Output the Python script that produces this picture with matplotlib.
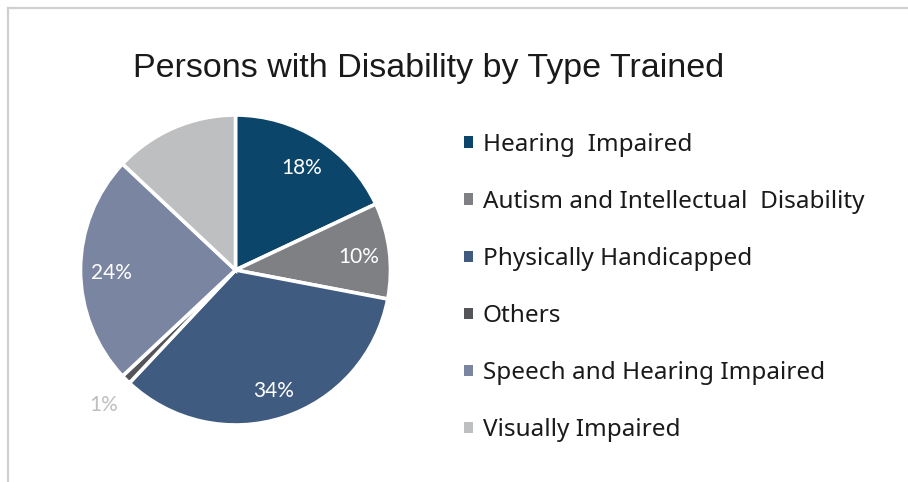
import matplotlib
matplotlib.use("Agg")
import matplotlib.pyplot as plt
import matplotlib.transforms as mtransforms
from matplotlib.patches import Patch
from matplotlib.lines import Line2D
import numpy as np

# Data
categories = ["Hearing  Impaired", "Autism and Intellectual  Disability",
              "Physically Handicapped", "Others",
              "Speech and Hearing Impaired", "Visually Impaired"]
shares = [18, 10, 34, 1, 24, 13]
colors = ["#0b4569", "#7f8084", "#3f5b80", "#545559", "#7a86a1", "#bebfc1"]
pct_labels = ["18%", "10%", "34%", "1%", "24%", ""]

fig = plt.figure(figsize=(9.08, 4.82), dpi=100)
fig.patch.set_facecolor("white")

# chart-area frame (only top and left edges are visible)
fig.add_artist(Line2D([8 / 908, 1.0], [1 - 8 / 482, 1 - 8 / 482],
                      transform=fig.transFigure, color="#d0d0d0", lw=1.6))
fig.add_artist(Line2D([8 / 908, 8 / 908], [0.0, 1 - 8 / 482],
                      transform=fig.transFigure, color="#d0d0d0", lw=1.6))

# Pie
R = 155
lim = 1.3
size = 2 * lim * R
cx, cy = 235.5, 482 - 270
ax = fig.add_axes([(cx - size / 2) / 908, (cy - size / 2) / 482, size / 908, size / 482])
wedges, _ = ax.pie(shares, colors=colors, startangle=90, counterclock=False,
                   wedgeprops=dict(edgecolor="white", linewidth=2.6))
ax.set_xlim(-lim, lim)
ax.set_ylim(-lim, lim)
ax.set_aspect("equal")
ax.axis("off")

# percentage labels
shift = mtransforms.offset_copy(ax.transData, fig=fig, x=0, y=-3, units="dots")
for w, s, lab in zip(wedges, shares, pct_labels):
    if not lab:
        continue
    mid = np.deg2rad((w.theta1 + w.theta2) / 2)
    if s < 3:
        r, col = 1.2, "#bfbfbf"
    else:
        r, col = 0.8, "white"
    ax.text(r * np.cos(mid), r * np.sin(mid), lab, ha="center", va="center",
            color=col, fontsize=15, family=["Lato", "DejaVu Sans"],
            transform=shift)

# Title
fig.text(429 / 908, 1 - 69 / 482, "Persons with Disability by Type Trained",
         ha="center", va="center", fontsize=24.5, family="Liberation Sans",
         color="#1a1a1a")

# Legend
handles = [Patch(facecolor=c, edgecolor="none") for c in colors]
leg = fig.legend(handles, categories, loc="upper left",
                 bbox_to_anchor=(464 / 908, 1 - 133 / 482),
                 frameon=False, handlelength=0.37,
                 handleheight=0.37, handletextpad=0.4, labelspacing=1.36,
                 borderaxespad=0, borderpad=0,
                 prop=dict(family="Noto Sans", size=17.5))
for t in leg.get_texts():
    t.set_color("#1a1a1a")

fig.savefig("out.png", dpi=100, facecolor="white")
